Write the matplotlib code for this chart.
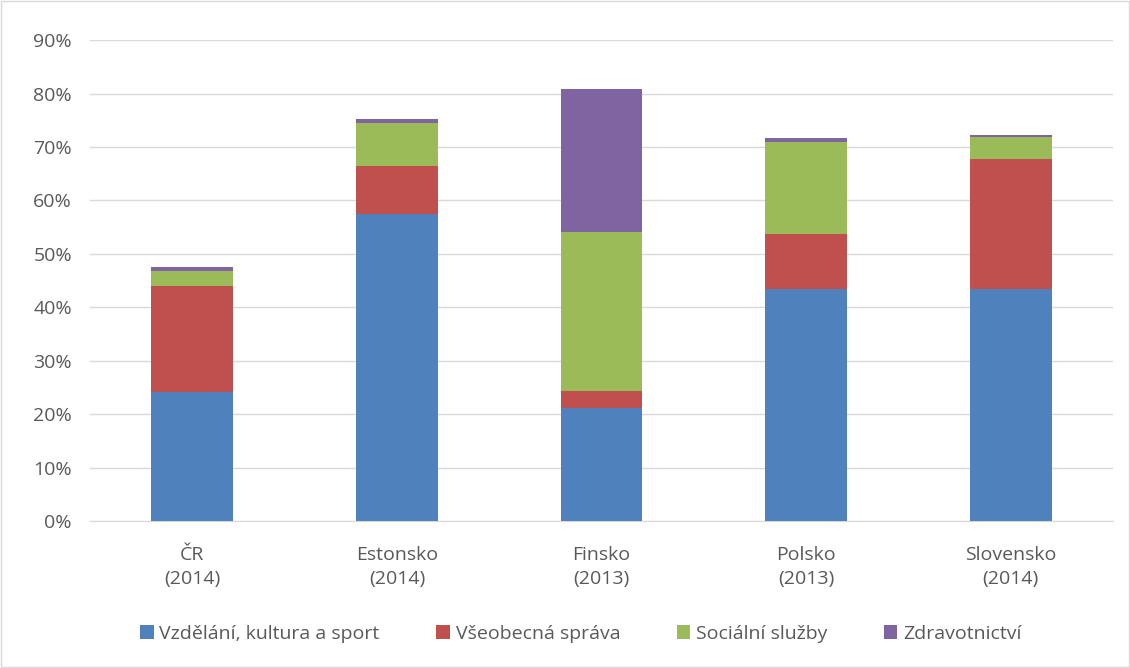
import matplotlib.pyplot as plt
import numpy as np

plt.rcParams['font.family'] = ['Open Sans', 'DejaVu Sans']

categories = ['ČR\n(2014)', 'Estonsko\n(2014)', 'Finsko\n(2013)', 'Polsko\n(2013)', 'Slovensko\n(2014)']
vzdelani = [24.1, 57.4, 21.1, 43.5, 43.4]
sprava = [19.9, 9.0, 3.2, 10.3, 24.3]
socialni = [2.7, 8.1, 29.8, 17.2, 4.2]
zdravotnictvi = [0.9, 0.8, 26.7, 0.7, 0.3]

series = [
    ('Vzdělání, kultura a sport', vzdelani, '#4f81bd'),
    ('Všeobecná správa', sprava, '#c0504d'),
    ('Sociální služby', socialni, '#9bbb59'),
    ('Zdravotnictví', zdravotnictvi, '#8064a2'),
]

fig = plt.figure(figsize=(11.3, 6.68), dpi=100)
ax = fig.add_axes([0.0796, 0.22, 0.9054, 0.72])

x = np.arange(len(categories))
bottom = np.zeros(len(categories))
for name, vals, col in series:
    ax.bar(x, vals, 0.4, bottom=bottom, color=col, label=name, zorder=3)
    bottom += np.array(vals)

ax.set_xlim(-0.5, len(categories) - 0.5)
ax.set_ylim(0, 90)
ax.set_yticks(range(0, 91, 10))
ax.set_yticklabels(['{}%'.format(v) for v in range(0, 91, 10)])
ax.set_xticks(x)
ax.set_xticklabels(categories, linespacing=1.45)
ax.grid(axis='y', color='#d9d9d9', linewidth=1, zorder=0)
for s in ['top', 'right', 'left']:
    ax.spines[s].set_visible(False)
ax.spines['bottom'].set_color('#d9d9d9')
ax.tick_params(axis='both', length=0, labelsize=14, colors='#595959')
ax.tick_params(axis='x', pad=18)
ax.tick_params(axis='y', pad=13)

fig.legend(loc='center', bbox_to_anchor=(0.514, 0.051), ncol=4, frameon=False,
           fontsize=14, labelcolor='#595959', handlelength=0.7, handleheight=0.7,
           handletextpad=0.3, columnspacing=2.9)

fig.patches.append(plt.Rectangle((0.001, 0.001), 0.998, 0.998, transform=fig.transFigure,
                                 fill=False, edgecolor='#d9d9d9', linewidth=1))

fig.savefig('out.png', dpi=100)
